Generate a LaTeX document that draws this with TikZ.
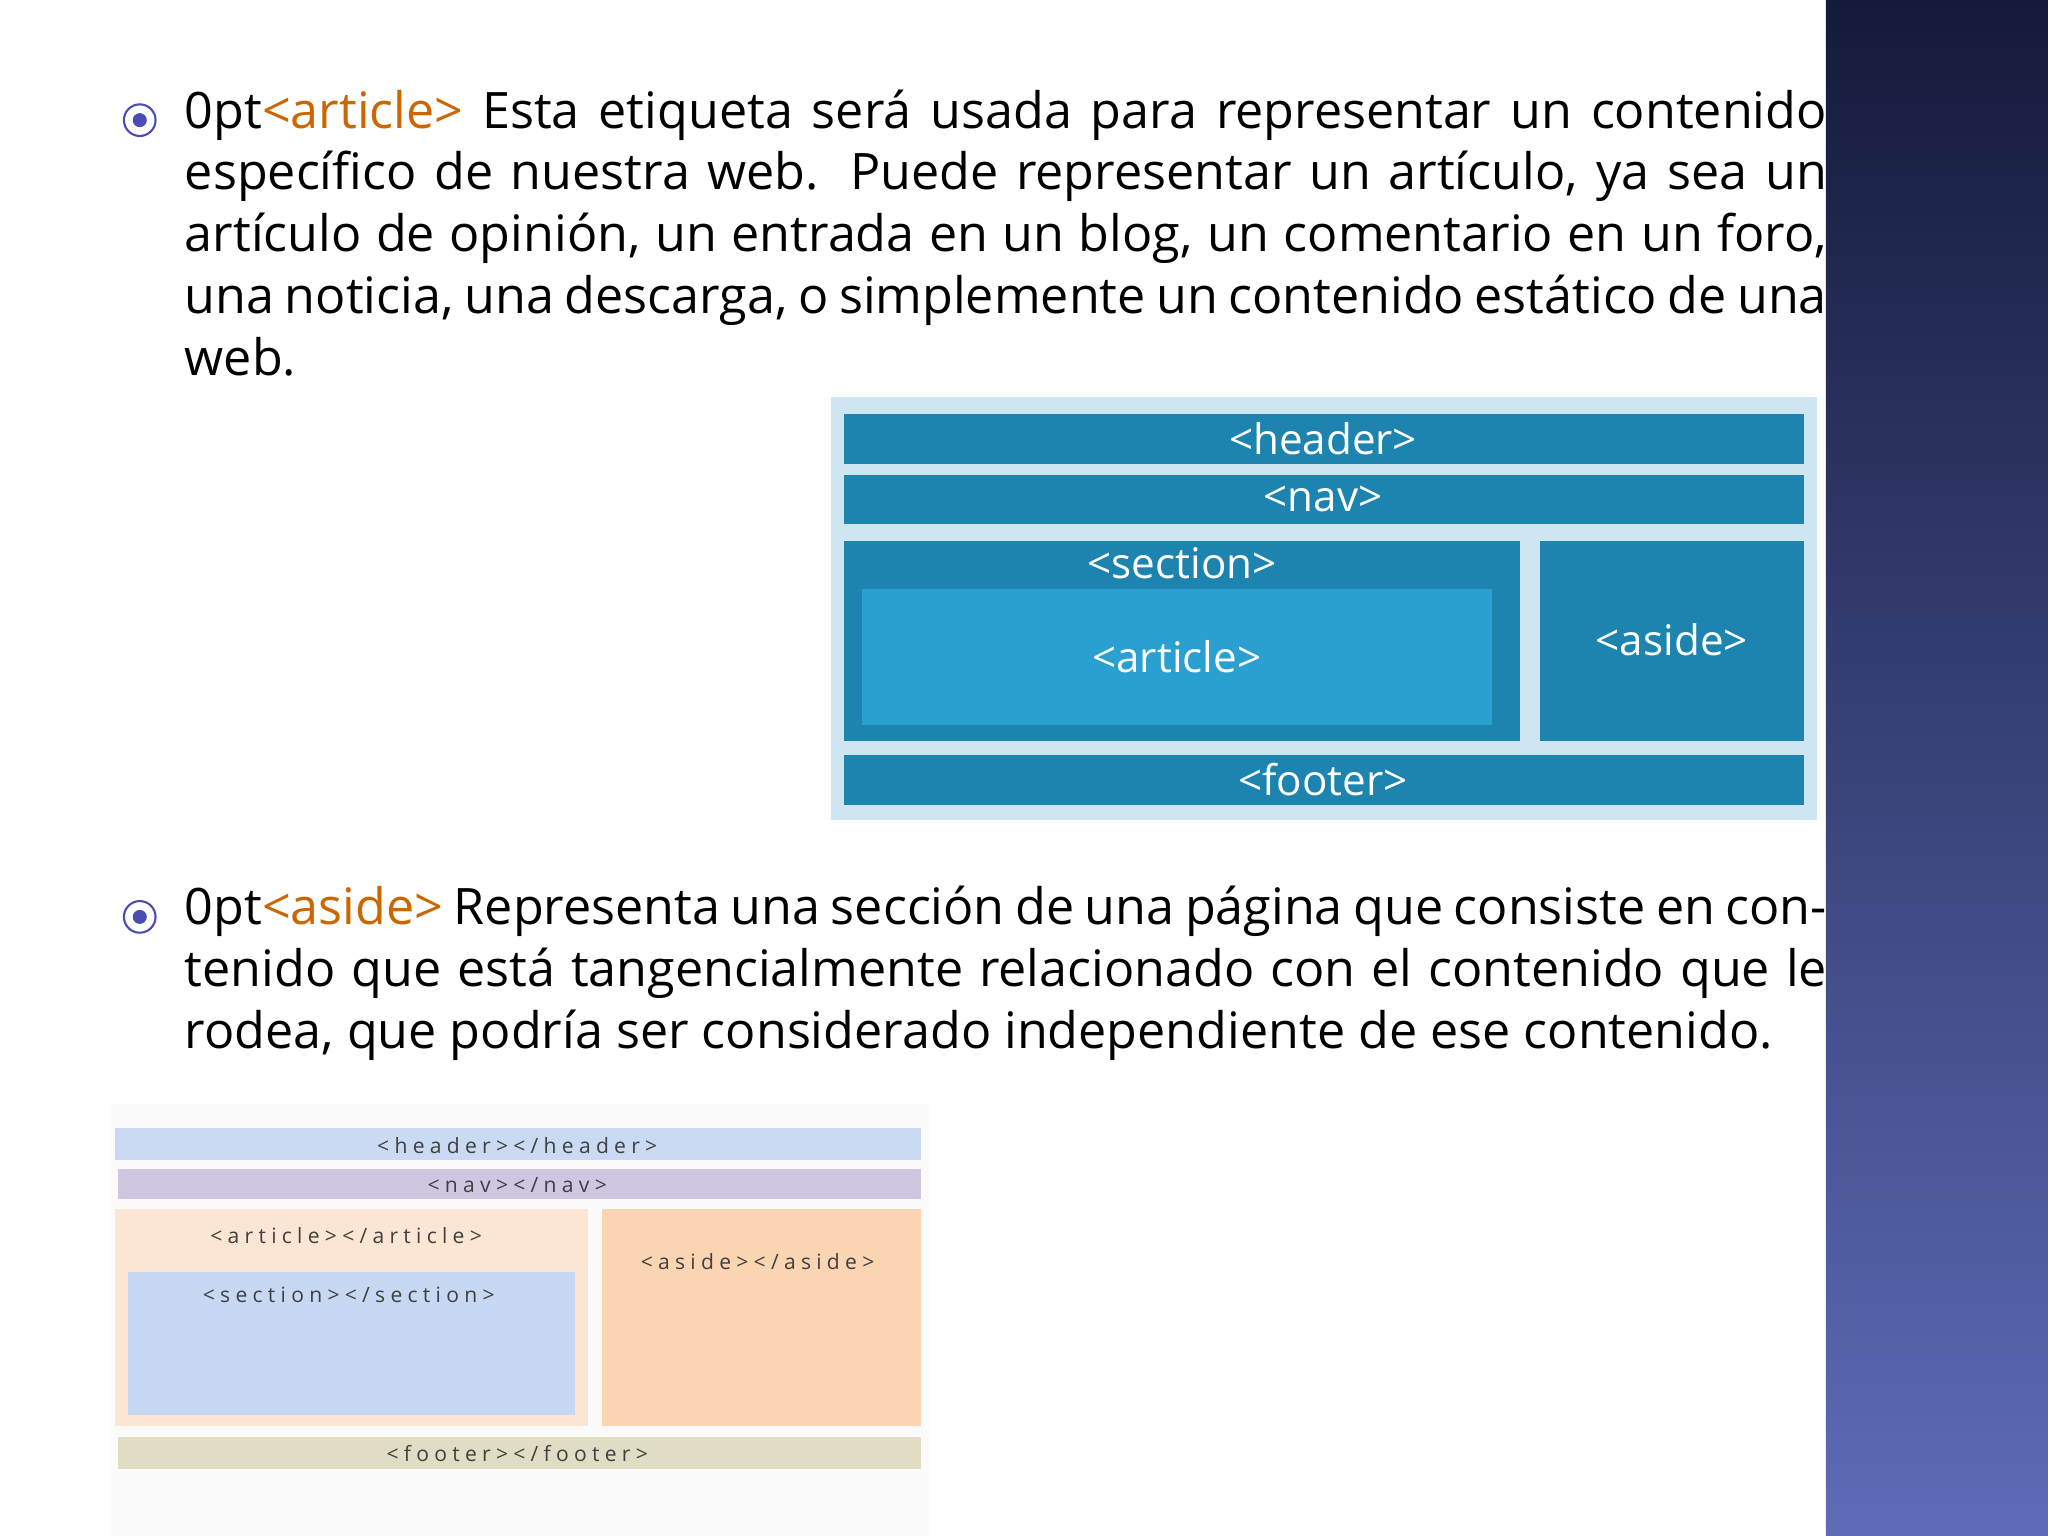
\documentclass[tikz,border=0pt]{standalone}
\usepackage{fontspec}
\setmainfont{Open Sans}
\begin{document}
\begin{tikzpicture}[x=0.01306cm,y=-0.01306cm,
  wt/.style={text=white,font=\fontsize{12}{12}\selectfont},
  st/.style={text=black!75,font=\fontsize{6}{6}\selectfont\addfontfeature{LetterSpace=25}},
  para/.style={anchor=north west,text width=16.42cm,align=justify,inner sep=0pt,font=\fontsize{14.3}{17.6}\selectfont\hyphenpenalty=10000\exhyphenpenalty=10000\emergencystretch=3em}]
\definecolor{bt}{HTML}{141A3A}\definecolor{bb}{HTML}{5E6CB8}
\useasboundingbox (0,0) rectangle (1568,1176);
\fill[white] (0,0) rectangle (1568,1176);
\shade[top color=bt,bottom color=bb] (1398,0) rectangle (1568,1176);
% bullets
\foreach \yy/\n in {92/b1,702/b2}{
  \node[circle,draw=blue!40!gray,line width=0.6pt,minimum size=9pt,inner sep=0pt] (\n) at (107,\yy) {};
  \fill[blue!40!gray] (107,\yy) circle (2pt);}
\node[para] (p1) at (141,68) {\textcolor{orange!80!black}{<article>} Esta etiqueta será usada para representar un contenido específico de nuestra web. Puede representar un artículo, ya sea un artículo de opinión, un entrada en un blog, un comentario en un foro, una noticia, una descarga, o simplemente un contenido estático de una web.};
\node[para] (p2) at (141,678) {\textcolor{orange!80!black}{<aside>} Representa una sección de una página que consiste en contenido que está tangencialmente relacionado con el contenido que le rodea, que podría ser considerado independiente de ese contenido.};
% diagram 1
\definecolor{d1}{HTML}{1C84AE}\definecolor{d2}{HTML}{29A0D0}\definecolor{d0}{HTML}{CDE6F0}
\fill[d0] (636,304) rectangle (1391,628);
\fill[d1] (646,317) rectangle (1381,355); \node[wt] (h1) at (1013,336) {<header>};
\fill[d1] (646,364) rectangle (1381,401); \node[wt] (n1) at (1013,382) {<nav>};
\fill[d1] (646,414) rectangle (1164,567); \node[wt] (s1) at (905,431) {<section>};
\fill[d2] (660,451) rectangle (1142,555); \node[wt] (a1) at (901,503) {<article>};
\fill[d1] (1179,414) rectangle (1381,567); \node[wt] (as1) at (1280,490) {<aside>};
\fill[d1] (646,578) rectangle (1381,616); \node[wt] (f1) at (1013,597) {<footer>};
% diagram 2
\definecolor{e1}{HTML}{C9DAF2}\definecolor{e2}{HTML}{CFC6E2}\definecolor{e3}{HTML}{FBE6D4}
\definecolor{e4}{HTML}{C7D8F2}\definecolor{e5}{HTML}{FBD4B2}\definecolor{e6}{HTML}{E0DDC4}
\fill[gray!3] (85,845) rectangle (712,1176);
\fill[e1] (88,864) rectangle (705,888); \node[st] (h2) at (396,877) {<header></header>};
\fill[e2] (90,895) rectangle (705,918); \node[st] (n2) at (396,907) {<nav></nav>};
\fill[e3] (88,926) rectangle (450,1092); \node[st] (a2) at (265,946) {<article></article>};
\fill[e4] (98,974) rectangle (440,1083); \node[st] (s2) at (267,991) {<section></section>};
\fill[e5] (461,926) rectangle (705,1092); \node[st] (as2) at (580,966) {<aside></aside>};
\fill[e6] (90,1100) rectangle (705,1125); \node[st] (f2) at (396,1113) {<footer></footer>};
\end{tikzpicture}
\end{document}
